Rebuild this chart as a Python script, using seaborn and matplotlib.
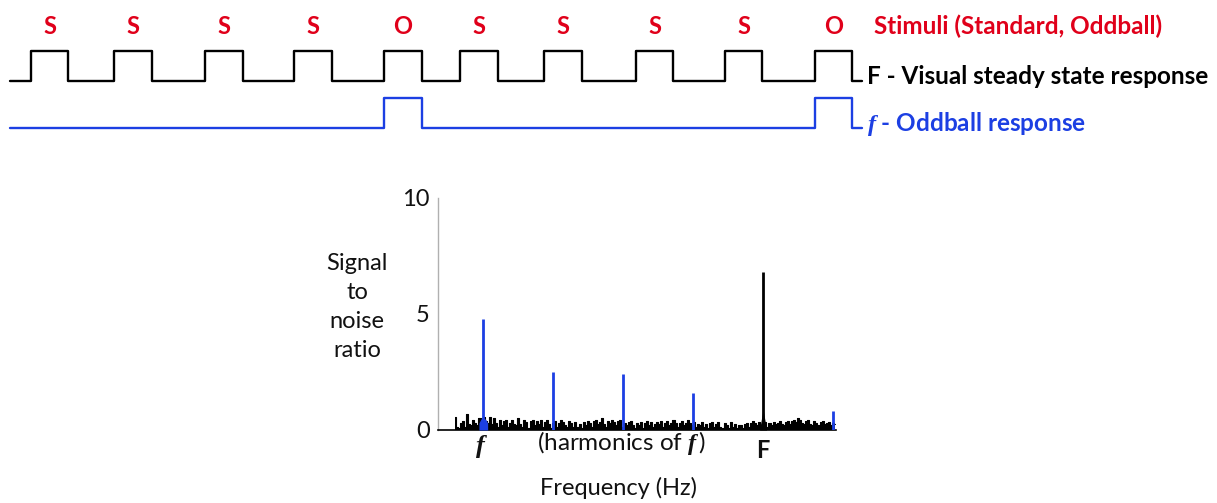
import matplotlib
matplotlib.use("Agg")
import matplotlib.pyplot as plt
import matplotlib.transforms as mtrans
import numpy as np
import seaborn as sns

sns.set_style("white")
plt.rcParams["font.family"] = ["Lato", "DejaVu Sans"]
plt.rcParams["mathtext.fontset"] = "custom"
plt.rcParams["mathtext.rm"] = "Lato"
plt.rcParams["mathtext.it"] = "Lato:italic"
plt.rcParams["mathtext.bf"] = "Lato:bold"
plt.rcParams["mathtext.bfit"] = "Liberation Serif:italic:bold"

# ---- data ----
stimuli = ["S", "S", "S", "S", "O", "S", "S", "S", "S", "O"]
# onset / offset of each stimulus (time, arbitrary units)
pulse_on = [31, 114, 205, 294, 384, 460, 544, 636, 725, 815]
pulse_off = [68, 152, 243, 332, 422, 498, 582, 673, 762, 852]
t_start, t_end = 10, 862

# spectrum (Hz), f = 1.2 Hz oddball, F = 6 Hz base
f_odd = 1.2
F_base = 6.0
harm_freq = [1.2, 2.4, 3.6, 4.8, 7.2]
harm_snr = [4.78, 2.5, 2.4, 1.6, 0.82]
base_snr = 6.8

noise_f0 = 0.72
noise_df = 0.035
noise_snr = [
    0.55, 0.15, 0.1, 0.3, 0.4, 0.15, 0.7, 0.25, 0.2, 0.45, 0.3, 0.2, 0.5, 0.35, 0.55, 0.4, 0.3, 0.55, 0.25, 0.5,
    0.3, 0.15, 0.45, 0.2, 0.4, 0.45, 0.15, 0.3, 0.45, 0.25, 0.2, 0.5, 0.25, 0.15, 0.45, 0.35, 0.1, 0.4, 0.45, 0.2,
    0.4, 0.25, 0.45, 0.15, 0.35, 0.45, 0.25, 0.1, 0.3, 0.4, 0.15, 0.3, 0.45, 0.35, 0.2, 0.15, 0.4, 0.3, 0.15, 0.35,
    0.15, 0.25, 0.1, 0.35, 0.2, 0.4, 0.3, 0.15, 0.4, 0.45, 0.25, 0.35, 0.5, 0.25, 0.15, 0.4, 0.3, 0.45, 0.35, 0.2,
    0.4, 0.45, 0.15, 0.3, 0.2, 0.35, 0.4, 0.2, 0.1, 0.3, 0.2, 0.35, 0.1, 0.3, 0.4, 0.2, 0.35, 0.15, 0.25, 0.35,
    0.25, 0.4, 0.15, 0.3, 0.4, 0.2, 0.3, 0.45, 0.3, 0.15, 0.3, 0.4, 0.2, 0.3, 0.45, 0.3, 0.2, 0.35, 0.15, 0.25,
    0.2, 0.35, 0.15, 0.25, 0.1, 0.3, 0.35, 0.15, 0.25, 0.35, 0.15, 0.1, 0.3, 0.2, 0.1, 0.35, 0.15, 0.25, 0.1, 0.2,
    0.2, 0.1, 0.25, 0.3, 0.15, 0.3, 0.4, 0.3, 0.2, 0.35, 0.15, 0.25, 0.35, 0.15, 0.3, 0.2, 0.35, 0.25, 0.3, 0.4,
    0.25, 0.2, 0.35, 0.4, 0.25, 0.4, 0.45, 0.35, 0.5, 0.45, 0.3, 0.25, 0.4, 0.45, 0.25, 0.2, 0.4, 0.3, 0.2, 0.35,
    0.4, 0.25, 0.3, 0.35, 0.2, 0.3, 0.25,
]
blob_freq = [1.13, 1.16, 1.19, 1.22, 1.25, 1.28]
blob_snr = [0.3, 0.45, 0.55, 0.5, 0.45, 0.3]

red = "#e0001a"
blue = "#1c3fe3"
ink = "#111111"

W, H = 1217, 503
fig = plt.figure(figsize=(W / 100, H / 100), dpi=100)

# ---- top: stimulus / response traces ----
ax_t = fig.add_axes([0, 0, 1, 1])
ax_t.set_xlim(0, W)
ax_t.set_ylim(H, 0)
ax_t.axis("off")


def step_trace(ons, offs):
    t = [t_start]
    lv = [0]
    for a, b in zip(ons, offs):
        t += [a, b]
        lv += [1, 0]
    t.append(t_end)
    lv.append(0)
    return np.array(t, float), np.array(lv, float)


t_black, lv_black = step_trace(pulse_on, pulse_off)
odd_on = [a for a, s in zip(pulse_on, stimuli) if s == "O"]
odd_off = [b for b, s in zip(pulse_off, stimuli) if s == "O"]
t_blue, lv_blue = step_trace(odd_on, odd_off)

sns.lineplot(x=t_black, y=81 - 30 * lv_black, drawstyle="steps-post", estimator=None,
             sort=False, color="black", lw=1.7, ax=ax_t)
sns.lineplot(x=t_blue, y=127.5 - 30 * lv_blue, drawstyle="steps-post", estimator=None,
             sort=False, color=blue, lw=1.7, ax=ax_t)

for a, b, s in zip(pulse_on, pulse_off, stimuli):
    ax_t.text((a + b) / 2, 26, s, color=red, fontsize=17, fontweight="bold",
              ha="center", va="center")

ax_t.text(874, 26, "Stimuli (Standard, Oddball)", color=red, fontsize=17.5,
          fontweight="bold", ha="left", va="center")
ax_t.text(867, 76, "F - Visual steady state response", color="black", fontsize=17.5,
          fontweight="bold", ha="left", va="center")
ax_t.text(867, 124, r"$\mathbfit{f}$ - Oddball response", color=blue, fontsize=17.5,
          fontweight="bold", ha="left", va="center")

# ---- bottom: SNR spectrum ----
ax = fig.add_axes([438 / W, (H - 430) / H, 398 / W, 232 / H])
ax.set_xlim(0.429, 7.25)
ax.set_ylim(0, 10)

noise_freq = noise_f0 + noise_df * np.arange(len(noise_snr))
ax.fill_between(noise_freq, noise_snr, step="mid", color="black", lw=0, zorder=2)
sns.lineplot(x=noise_freq, y=noise_snr, drawstyle="steps-mid", estimator=None,
             color="black", lw=0.8, ax=ax, zorder=2)
ax.fill_between(blob_freq, blob_snr, color=blue, lw=0, zorder=3)

ax.vlines(harm_freq, 0, harm_snr, color=blue, lw=2.0, zorder=4)
ax.vlines([F_base], 0, [base_snr], color="black", lw=2.0, zorder=4)
ax.fill_between([F_base - 0.06, F_base, F_base + 0.06], [0, 0.9, 0], color="black", lw=0, zorder=4)

ax.set_yticks([0, 5, 10])
ax.set_yticklabels(["0", "5", "10"])
ax.set_xticks([])
ax.tick_params(axis="y", length=0, pad=6, labelsize=17, labelcolor=ink)
for side in ["top", "right"]:
    ax.spines[side].set_visible(False)
ax.spines["left"].set_color("#b0b0b0")
ax.spines["left"].set_linewidth(1.0)
ax.spines["bottom"].set_color("black")
ax.spines["bottom"].set_linewidth(1.2)

tr = mtrans.blended_transform_factory(ax.transData, fig.transFigure)
ax.text(f_odd - 0.03, (H - 447) / H, r"$\mathbfit{f}$", fontsize=19, ha="center", va="center",
        transform=tr, color=ink)
ax.text(3.58, (H - 443) / H, r"(harmonics of $\mathbfit{f}\,$)", fontsize=17.5, ha="center",
        va="center", transform=tr, color=ink)
ax.text(F_base, (H - 450) / H, "F", fontsize=17, fontweight="bold", ha="center",
        va="center", transform=tr, color=ink)

fig.text(619 / W, (H - 488) / H, "Frequency (Hz)", fontsize=17, ha="center", va="center",
         color=ink)
fig.text(357 / W, (H - 307) / H, "Signal\nto\nnoise\nratio", fontsize=17, ha="center",
         va="center", multialignment="center", linespacing=1.48, color=ink)

fig.savefig("out.png", dpi=100)
